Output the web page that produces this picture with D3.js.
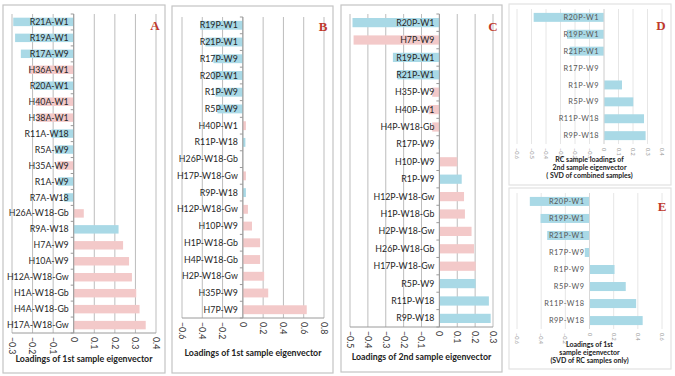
<!DOCTYPE html>
<html>
<head>
<meta charset="utf-8">
<script src="https://cdn.jsdelivr.net/npm/d3@7"></script>
<style>
  body { margin: 0; background: #fff; }
  svg { display: block; }
  text { font-family: Lato, "Open Sans", "Liberation Sans", sans-serif; }
</style>
</head>
<body>
<svg id="chart" width="675" height="376"></svg>
<script>
// Panel A - 1st eigenvector, A samples
let aLabels = ["R21A-W1", "R19A-W1", "R17A-W9", "H36A-W1", "R20A-W1", "H40A-W1", "H38A-W1",
  "R11A-W18", "R5A-W9", "H35A-W9", "R1A-W9", "R7A-W18", "H26A-W18-Gb", "R9A-W18", "H7A-W9",
  "H10A-W9", "H12A-W18-Gw", "H1A-W18-Gb", "H4A-W18-Gb", "H17A-W18-Gw"];
let aValues = [-0.294, -0.285, -0.257, -0.218, -0.193, -0.184, -0.181, -0.108, -0.092, -0.08,
  -0.076, -0.047, 0.049, 0.218, 0.24, 0.269, 0.283, 0.304, 0.32, 0.35];
let aTicks = [-0.3, -0.2, -0.1, 0, 0.1, 0.2, 0.3, 0.4];

// Panel B - 1st eigenvector, P samples
let bLabels = ["R19P-W1", "R21P-W1", "R17P-W9", "R20P-W1", "R1P-W9", "R5P-W9", "H40P-W1",
  "R11P-W18", "H26P-W18-Gb", "H17P-W18-Gw", "R9P-W18", "H12P-W18-Gw", "H10P-W9", "H1P-W18-Gb",
  "H4P-W18-Gb", "H2P-W18-Gw", "H35P-W9", "H7P-W9"];
let bValues = [-0.42, -0.37, -0.29, -0.3, -0.27, -0.25, 0.03, 0.025, 0.0, 0.03, 0.03, 0.05,
  0.09, 0.17, 0.17, 0.21, 0.25, 0.63];
let bTicks = [-0.6, -0.4, -0.2, 0, 0.2, 0.4, 0.6, 0.8];

// Panel C - 2nd eigenvector, P samples
let cLabels = ["R20P-W1", "H7P-W9", "R19P-W1", "R21P-W1", "H35P-W9", "H40P-W1", "H4P-W18-Gb",
  "R17P-W9", "H10P-W9", "R1P-W9", "H12P-W18-Gw", "H1P-W18-Gb", "H2P-W18-Gw", "H26P-W18-Gb",
  "H17P-W18-Gw", "R5P-W9", "R11P-W18", "R9P-W18"];
let cValues = [-0.486, -0.48, -0.26, -0.235, -0.04, -0.06, -0.04, -0.005, 0.1, 0.125, 0.138,
  0.143, 0.18, 0.194, 0.203, 0.203, 0.277, 0.287];
let cTicks = [-0.5, -0.4, -0.3, -0.2, -0.1, 0, 0.1, 0.2, 0.3];

// Panel D - RC loadings of 2nd eigenvector (combined SVD)
let dLabels = ["R20P-W1", "R19P-W1", "R21P-W1", "R17P-W9", "R1P-W9", "R5P-W9", "R11P-W18", "R9P-W18"];
let dValues = [-0.485, -0.255, -0.237, 0.0, 0.124, 0.202, 0.276, 0.287];
let dTicks = [-0.6, -0.5, -0.4, -0.3, -0.2, -0.1, 0, 0.1, 0.2, 0.3, 0.4];

// Panel E - 1st eigenvector (SVD of RC samples only)
let eLabels = ["R20P-W1", "R19P-W1", "R21P-W1", "R17P-W9", "R1P-W9", "R5P-W9", "R11P-W18", "R9P-W18"];
let eValues = [-0.494, -0.405, -0.35, -0.039, 0.207, 0.30, 0.386, 0.44];
let eTicks = [-0.6, -0.4, -0.2, 0, 0.2, 0.4, 0.6];

const BLUE = "#a9d9e6";
const PINK = "#f3c9c9";

let svg = d3.select("#chart");

function drawPanel(p) {
  let g = svg.append("g");

  // outer frame
  g.append("rect")
    .attr("x", p.box[0]).attr("y", p.box[1])
    .attr("width", p.box[2] - p.box[0]).attr("height", p.box[3] - p.box[1])
    .attr("fill", "#fff")
    .attr("stroke", p.light ? "#e2e2e2" : "#c4c4c4")
    .attr("stroke-width", 1.2);

  let x = d3.scaleLinear().domain(p.domain).range([p.plot[0], p.plot[1]]);
  let y = d3.scaleBand().domain(p.labels).range([p.plot[2], p.plot[3]]).paddingInner(0.47).paddingOuter(0.23);
  let yb = d3.scaleBand().domain(p.labels).range([p.plot[2], p.plot[3]]);

  // vertical gridlines
  g.selectAll(".grid")
    .data(p.ticks)
    .enter()
    .append("line")
    .attr("x1", d => x(d)).attr("x2", d => x(d))
    .attr("y1", p.plot[2]).attr("y2", p.plot[3])
    .attr("stroke", p.light ? "#e6e6e6" : "#bdbdbd")
    .attr("stroke-width", 1);

  // bottom axis line
  if (!p.light) {
    g.append("line")
      .attr("x1", p.plot[0]).attr("x2", p.plot[1])
      .attr("y1", p.plot[3]).attr("y2", p.plot[3])
      .attr("stroke", "#9a9a9a");
  }

  // bars
  g.selectAll(".bar")
    .data(p.values)
    .enter()
    .append("rect")
    .attr("x", d => x(Math.min(0, d)))
    .attr("y", (d, i) => y(p.labels[i]))
    .attr("width", d => Math.abs(x(d) - x(0)))
    .attr("height", y.bandwidth())
    .attr("fill", (d, i) => p.labels[i][0] === "H" ? PINK : BLUE);

  // zero axis with category ticks
  g.append("line")
    .attr("x1", x(0)).attr("x2", x(0))
    .attr("y1", p.plot[2]).attr("y2", p.plot[3])
    .attr("stroke", p.light ? "#d8d8d8" : "#9a9a9a");
  if (!p.light) {
    g.selectAll(".ctick")
      .data(p.labels.concat(["end"]))
      .enter()
      .append("line")
      .attr("x1", x(0) - 3).attr("x2", x(0))
      .attr("y1", (d, i) => p.plot[2] + i * yb.step())
      .attr("y2", (d, i) => p.plot[2] + i * yb.step())
      .attr("stroke", "#9a9a9a");
  }

  // category labels next to the zero line
  g.selectAll(".lab")
    .data(p.labels)
    .enter()
    .append("text")
    .attr("x", x(0) - 5)
    .attr("y", d => yb(d) + yb.bandwidth() / 2)
    .attr("dy", "0.35em")
    .attr("text-anchor", "end")
    .attr("font-size", p.light ? 7.4 : 8.8)
    .attr("letter-spacing", p.light ? 0.5 : 0)
    .attr("fill", p.light ? "#555" : "#262626")
    .text(d => d);

  // rotated tick labels
  g.selectAll(".tl")
    .data(p.ticks)
    .enter()
    .append("text")
    .attr("transform", d => "translate(" + x(d) + "," + (p.plot[3] + 4) + ") rotate(90)")
    .attr("dy", "0.35em")
    .attr("font-size", p.light ? 5.5 : 8.8)
    .attr("fill", p.light ? "#999" : "#333")
    .text(d => d3.format("")(+d.toFixed(1)));

  // axis title
  g.selectAll(".title")
    .data(p.title)
    .enter()
    .append("text")
    .attr("x", (p.plot[0] + p.plot[1]) / 2)
    .attr("y", (d, i) => p.titleY + i * 8)
    .attr("text-anchor", "middle")
    .attr("font-size", p.light ? 7 : 8.8)
    .attr("font-weight", "bold")
    .attr("fill", "#222")
    .text(d => d);

  // panel letter
  g.append("text")
    .attr("x", p.letterPos[0]).attr("y", p.letterPos[1])
    .attr("text-anchor", "middle")
    .attr("font-size", 13)
    .attr("font-weight", "bold")
    .attr("fill", "#c0392b")
    .style("font-family", "'Liberation Serif', 'DejaVu Serif', serif")
    .text(p.letter);
}

drawPanel({
  labels: aLabels, values: aValues, ticks: aTicks, domain: [-0.3, 0.4],
  box: [3, 5, 165, 373], plot: [12, 156, 14, 333],
  title: ["Loadings of 1st sample eigenvector"], titleY: 362,
  letter: "A", letterPos: [155, 30]
});
drawPanel({
  labels: bLabels, values: bValues, ticks: bTicks, domain: [-0.6, 0.8],
  box: [172, 6, 333, 373], plot: [182, 324, 17, 318],
  title: ["Loadings of 1st sample eigenvector"], titleY: 356,
  letter: "B", letterPos: [323, 31]
});
drawPanel({
  labels: cLabels, values: cValues, ticks: cTicks, domain: [-0.5, 0.3],
  box: [341, 5, 502, 372], plot: [350, 493, 14, 327],
  title: ["Loadings of 2nd sample eigenvector"], titleY: 360,
  letter: "C", letterPos: [493, 31]
});
drawPanel({
  labels: dLabels, values: dValues, ticks: dTicks, domain: [-0.6, 0.4], light: true,
  box: [509, 4, 671, 185], plot: [517, 662, 9, 144],
  title: ["RC sample loadings of", "2nd sample eigenvector", "( SVD of combined samples)"], titleY: 162,
  letter: "D", letterPos: [661, 30]
});
drawPanel({
  labels: eLabels, values: eValues, ticks: eTicks, domain: [-0.6, 0.6], light: true,
  box: [509, 188, 671, 369], plot: [517, 662, 193, 329],
  title: ["Loadings of 1st", "sample eigenvector", "(SVD of RC samples only)"], titleY: 347,
  letter: "E", letterPos: [662, 211]
});
</script>
</body>
</html>
